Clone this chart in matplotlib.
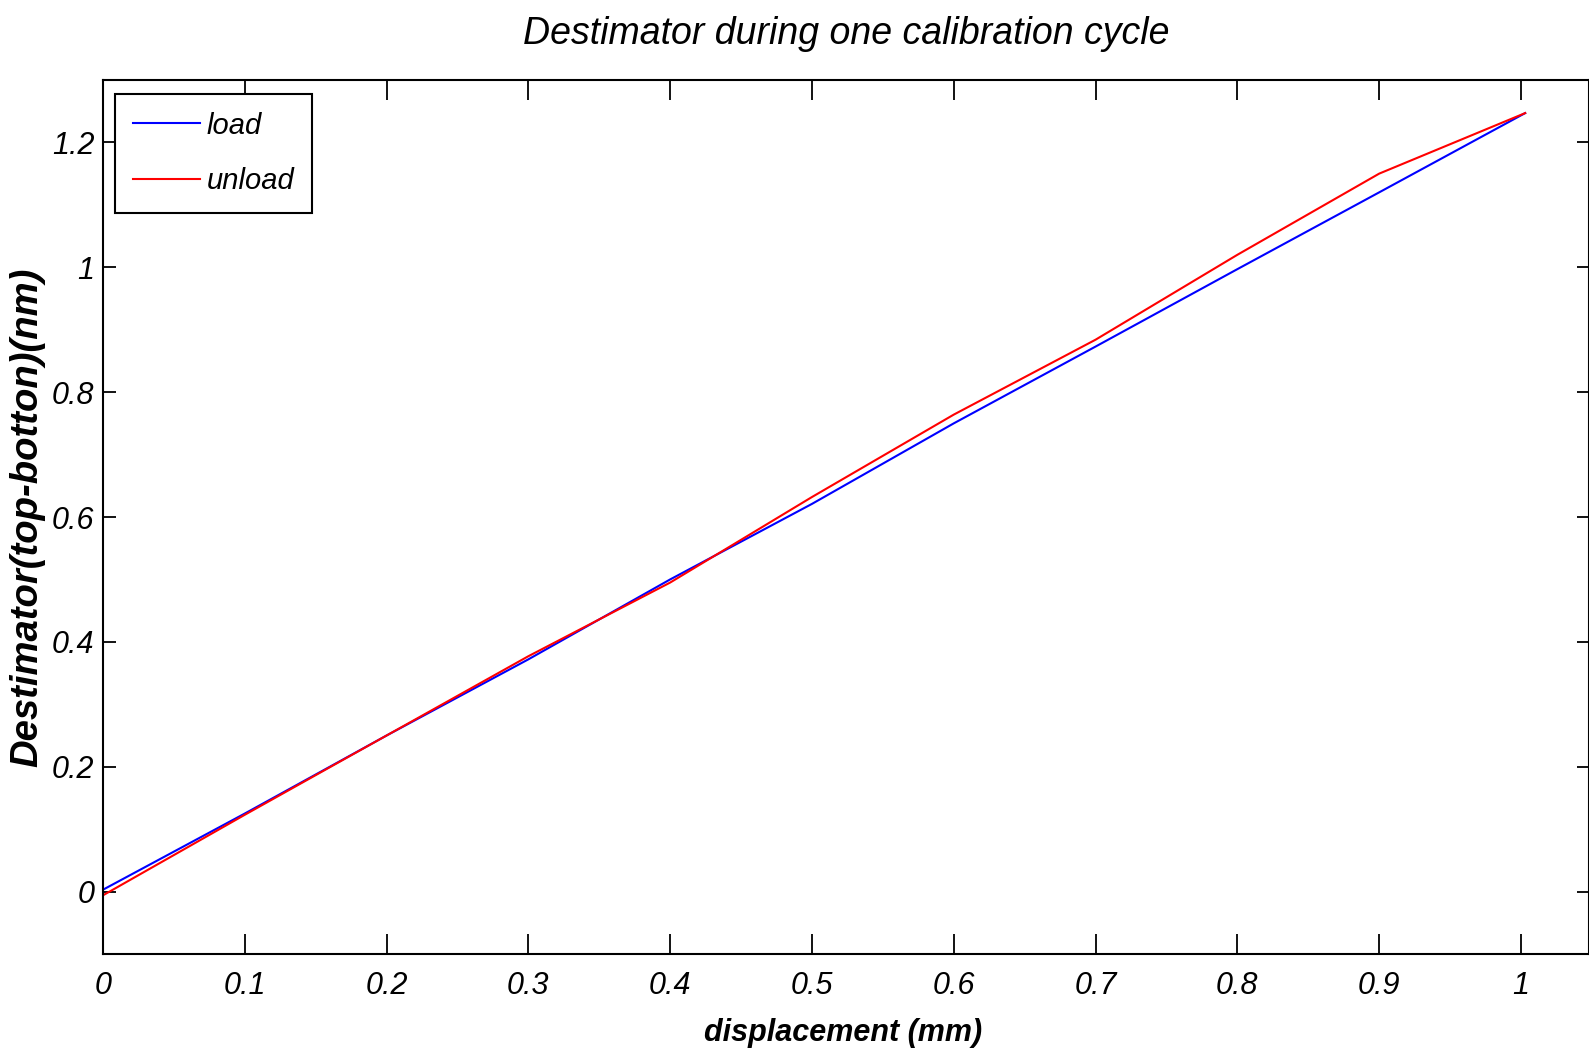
import matplotlib
matplotlib.use("Agg")
import matplotlib.pyplot as plt

# Calibration cycle readings
displacement = [0.0, 0.1, 0.2, 0.3, 0.4, 0.5, 0.6, 0.7, 0.8, 0.9, 1.003]
load = [0.003, 0.125, 0.250, 0.372, 0.500, 0.621, 0.750, 0.873, 0.997, 1.120, 1.247]
unload = [-0.006, 0.123, 0.250, 0.377, 0.495, 0.632, 0.764, 0.884, 1.020, 1.150, 1.247]

x_ticks = [0, 0.1, 0.2, 0.3, 0.4, 0.5, 0.6, 0.7, 0.8, 0.9, 1]
x_tick_labels = ["0", "0.1", "0.2", "0.3", "0.4", "0.5", "0.6", "0.7", "0.8", "0.9", "1"]
y_ticks = [0, 0.2, 0.4, 0.6, 0.8, 1.0, 1.2]
y_tick_labels = ["0", "0.2", "0.4", "0.6", "0.8", "1", "1.2"]

sans = ["Liberation Sans", "DejaVu Sans"]
W, H = 1589, 1053
fig = plt.figure(figsize=(W / 100, H / 100), dpi=100)
ax = fig.add_axes([103 / W, 1 - 954 / H, (1589 - 103) / W, (954 - 80) / H])

ax.plot(displacement, load, color="#0000ff", lw=1.5, label="load")
ax.plot(displacement, unload, color="#ff0000", lw=1.5, label="unload")

ax.set_xlim(0, 1.048)
ax.set_ylim(-0.1, 1.3)
ax.set_xticks(x_ticks)
ax.set_xticklabels(x_tick_labels, family=sans, style="italic", fontsize=22)
ax.set_yticks(y_ticks)
ax.set_yticklabels(y_tick_labels, family=sans, style="italic", fontsize=22)

ax.tick_params(axis="x", direction="in", length=14.5, width=1.3, top=True, pad=12)
ax.tick_params(axis="y", direction="in", length=9, width=1.3, right=True, pad=6)
for s in ax.spines.values():
    s.set_linewidth(1.5)

ax.set_title("Destimator during one calibration cycle", family=sans,
             style="italic", fontsize=27, pad=26)
ax.set_xlabel("displacement (mm)", family=sans, style="italic",
              fontweight="bold", fontsize=22)
ax.xaxis.set_label_coords(843 / W, 1 - 1033 / H, transform=fig.transFigure)
ax.set_ylabel("Destimator(top-botton)(nm)", family=sans,
              style="italic", fontweight="bold", fontsize=27.5)
ax.yaxis.set_label_coords(27 / W, 1 - 517 / H, transform=fig.transFigure)
ax.yaxis.label.set_verticalalignment("center")
ax.xaxis.label.set_verticalalignment("center")

leg = ax.legend(loc="upper left", bbox_to_anchor=(115 / W, 1 - 94 / H),
                bbox_transform=fig.transFigure, borderaxespad=0,
                prop={"family": sans, "style": "italic", "size": 21},
                fancybox=False, framealpha=1, edgecolor="black",
                handlelength=2.3, handletextpad=0.25, labelspacing=0.95,
                borderpad=0.6)
leg.get_frame().set_linewidth(1.5)

fig.savefig("out.png", dpi=100)
